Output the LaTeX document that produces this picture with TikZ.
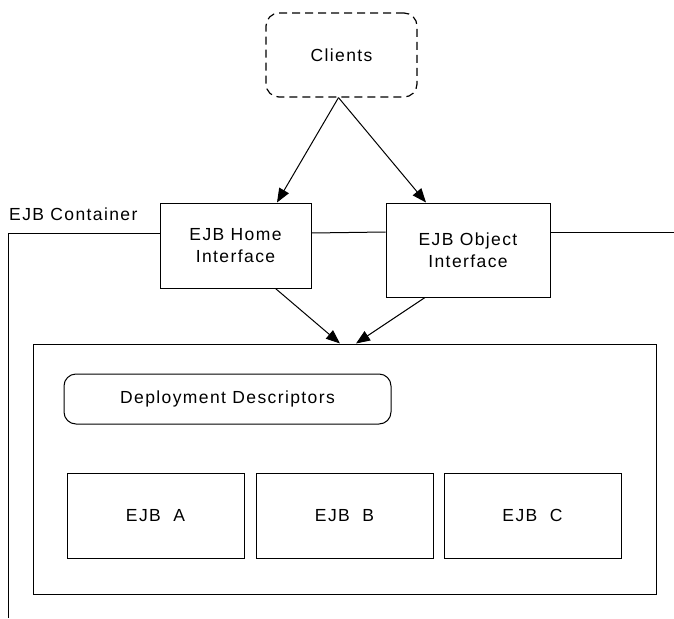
\documentclass[tikz,border=0pt]{standalone}
\usepackage{fontspec}
\setmainfont{Liberation Sans}[LetterSpace=8]
\usetikzlibrary{arrows.meta}
\tikzset{
  box/.style={draw, line width=1pt, inner sep=0pt, align=center,
    font=\fontsize{17.5}{22}\selectfont},
  rbox/.style={box, rounded corners=12pt},
  dbox/.style={box, line width=1.2pt, rounded corners=13pt, dash pattern=on 8pt off 5pt},
  wire/.style={line width=1pt},
  arr/.style={line width=1pt, -{Triangle[length=14pt,width=11pt]}},
  lbl/.style={inner sep=0pt, font=\fontsize{17.5}{22}\selectfont}
}
\begin{document}
\begin{tikzpicture}[x=1pt,y=-1pt]
\useasboundingbox (0,0) rectangle (674,618);
% nodes
\node[dbox, minimum width=151pt, minimum height=84pt] (clients) at (341.5,55) {Clients};
\node[box, minimum width=151pt, minimum height=85pt] (home) at (235.5,245.5) {EJB Home\\Interface};
\node[box, minimum width=164pt, minimum height=94pt] (object) at (468,250) {EJB Object\\Interface};
\node[box, minimum width=623pt, minimum height=250pt] (container) at (344.5,469) {};
\node[rbox, minimum width=327pt, minimum height=50pt] (dd) at (227.5,399) {Deployment Descriptors};
\node[box, minimum width=177pt, minimum height=85pt] (ejba) at (155.5,515.5) {EJB~~A};
\node[box, minimum width=177pt, minimum height=85pt] (ejbb) at (344.5,515.5) {EJB~~B};
\node[box, minimum width=177pt, minimum height=85pt] (ejbc) at (532.5,515.5) {EJB~~C};
\node[lbl, anchor=west] (ctlabel) at (9,214) {EJB Container};
% container boundary line
\coordinate (cl) at (8,233);
\coordinate (cb) at (8,618);
\coordinate (cr) at (674,232);
\draw[wire] (cb) -- (cl) -- (home.west |- cl);
\draw[wire] (home.east |- cl) -- (object.west |- cr);
\draw[wire] (object.east |- cr) -- (cr);
% arrows
\draw[arr] ([xshift=-3pt]clients.south) -- ([xshift=41.5pt]home.north);
\draw[arr] ([xshift=-3pt]clients.south) -- ([xshift=-42pt]object.north);
\draw[arr] ([xshift=40pt]home.south) -- ([xshift=-4.5pt]container.north);
\draw[arr] ([xshift=-43pt]object.south) -- ([xshift=11.5pt]container.north);
\end{tikzpicture}
\end{document}
